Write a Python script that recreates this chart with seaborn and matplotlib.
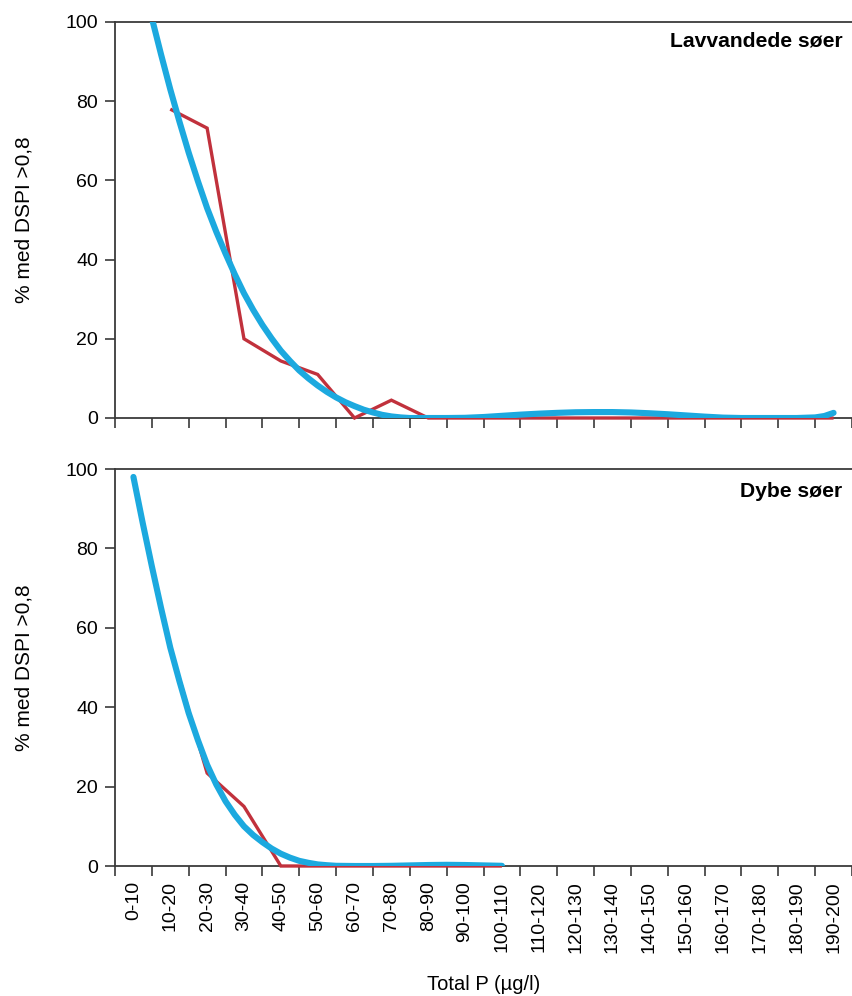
import numpy as np
import pandas as pd
import matplotlib
matplotlib.use("Agg")
import matplotlib.pyplot as plt
import seaborn as sns

# ---------------- data ----------------
categories = ["0-10", "10-20", "20-30", "30-40", "40-50", "50-60", "60-70",
              "70-80", "80-90", "90-100", "100-110", "110-120", "120-130",
              "130-140", "140-150", "150-160", "160-170", "170-180",
              "180-190", "190-200"]

# observed share (red), NaN = no data in that class
shallow_obs = [np.nan, 78, 73.2, 20, 14.4, 11, 0, 4.5, 0, 0, 0, 0, 0, 0, 0, 0,
               0, 0, 0, 0]
deep_obs = [np.nan, 55, 23.4, 15, 0, 0, 0, 0, 0, 0, 0, np.nan, np.nan, np.nan,
            np.nan, np.nan, np.nan, np.nan, np.nan, np.nan]

# fitted trend (blue) at class-index positions
shallow_fit_pos = [0, 0.25, 0.5, 0.75, 1, 1.25, 1.5, 1.75, 2, 2.25, 2.5, 2.75,
                   3, 3.25, 3.5, 3.75, 4, 4.25, 4.5, 4.75, 5, 5.25, 5.5, 5.75,
                   6, 6.25, 6.5, 6.75, 7, 7.25, 7.5, 8, 8.5, 9, 9.5, 10, 10.5,
                   11, 11.5, 12, 12.5, 13, 13.5, 14, 14.5, 15, 15.5, 16, 16.5,
                   17, 17.5, 18, 18.5, 18.75, 19]
shallow_fit = [121, 110.5, 101, 91.8, 83, 74.8, 67, 59.8, 53, 47, 41.5, 36.3,
               31.5, 27.3, 23.5, 20.1, 17, 14.4, 12, 10, 8.2, 6.6, 5.2, 4.0,
               3.0, 2.1, 1.4, 0.8, 0.4, 0.15, 0, 0, 0, 0.05, 0.25, 0.55, 0.85,
               1.1, 1.3, 1.45, 1.5, 1.5, 1.4, 1.2, 0.95, 0.65, 0.35, 0.1, 0,
               0, 0, 0, 0.15, 0.5, 1.3]
deep_fit_pos = [0, 0.25, 0.5, 0.75, 1, 1.25, 1.5, 1.75, 2, 2.25, 2.5, 2.75, 3,
                3.25, 3.5, 3.75, 4, 4.25, 4.5, 4.75, 5, 5.25, 5.5, 6, 6.5, 7,
                7.5, 8, 8.5, 9, 9.5, 10]
deep_fit = [98, 86.5, 75.5, 65, 55, 46.5, 38.5, 31.7, 25.5, 20.5, 16.3, 12.9,
            10, 7.8, 6, 4.4, 3.1, 2.1, 1.3, 0.8, 0.4, 0.2, 0.05, 0, 0, 0.05,
            0.15, 0.25, 0.3, 0.25, 0.15, 0.05]

y_ticks = [0, 20, 40, 60, 80, 100]
panel_titles = ["Lavvandede søer", "Dybe søer"]
ylabel = "% med DSPI >0,8"
xlabel = "Total P (µg/l)"

RED = "#C1313C"
BLUE = "#1CA9DF"
SPINE = "#3a3a3a"

# ---------------- style ----------------
sns.set_style("ticks")
plt.rcParams["font.family"] = ["Liberation Sans", "DejaVu Sans"]
plt.rcParams["font.size"] = 14
for key in ["text.color", "axes.labelcolor", "xtick.labelcolor",
            "ytick.labelcolor"]:
    plt.rcParams[key] = "black"

W, H = 852, 996
fig = plt.figure(figsize=(W / 100, H / 100), dpi=100)
ax_top = fig.add_axes([115 / W, (H - 418) / H, 737 / W, 396 / H])
ax_bot = fig.add_axes([115 / W, (H - 866) / H, 737 / W, 397 / H])

n = len(categories)
idx = np.arange(n)

panels = [
    (ax_top, shallow_obs, shallow_fit_pos, shallow_fit, panel_titles[0], 0.977),
    (ax_bot, deep_obs, deep_fit_pos, deep_fit, panel_titles[1], 0.968),
]

for ax, obs, fpos, fit, title, ty in panels:
    obs_df = pd.DataFrame({"pos": idx, "val": obs}).dropna()
    fit_df = pd.DataFrame({"pos": fpos, "val": fit})
    sns.lineplot(data=obs_df, x="pos", y="val", ax=ax, color=RED,
                 linewidth=2.4, solid_capstyle="butt", solid_joinstyle="miter",
                 clip_on=False, zorder=3, estimator=None, sort=False)
    sns.lineplot(data=fit_df, x="pos", y="val", ax=ax, color=BLUE,
                 linewidth=4.4, solid_capstyle="round", solid_joinstyle="round",
                 zorder=4, estimator=None, sort=False)

    ax.set_xlim(-0.5, n - 0.5)
    ax.set_ylim(0, 100)
    ax.set_yticks(y_ticks)
    ax.set_yticklabels([str(t) for t in y_ticks])
    ax.set_xticks(np.arange(n + 1) - 0.5)
    ax.set_xticklabels([])
    ax.set_xticks(idx, minor=True)
    ax.tick_params(axis="both", which="major", direction="out", length=7.2,
                   width=1.2, color=SPINE, labelsize=14, pad=5)
    ax.tick_params(axis="x", which="minor", length=0)

    for s in ["left", "top", "bottom"]:
        ax.spines[s].set_visible(True)
        ax.spines[s].set_color(SPINE)
        ax.spines[s].set_linewidth(1.3)
    ax.spines["right"].set_visible(False)

    ax.set_ylabel(ylabel, fontsize=15)
    ax.yaxis.set_label_coords(-0.11, 0.5)
    ax.set_xlabel("")
    ax.text(0.987, ty, title, transform=ax.transAxes, ha="right", va="top",
            fontsize=15.2, fontweight="bold")

ax_bot.set_xticklabels(categories, minor=True, rotation=90, fontsize=14)
ax_bot.tick_params(axis="x", which="minor", pad=11)
ax_bot.set_xlabel(xlabel, fontsize=14.5)
ax_bot.xaxis.set_label_coords(0.5, -0.274)

fig.savefig("out.png", dpi=100)
